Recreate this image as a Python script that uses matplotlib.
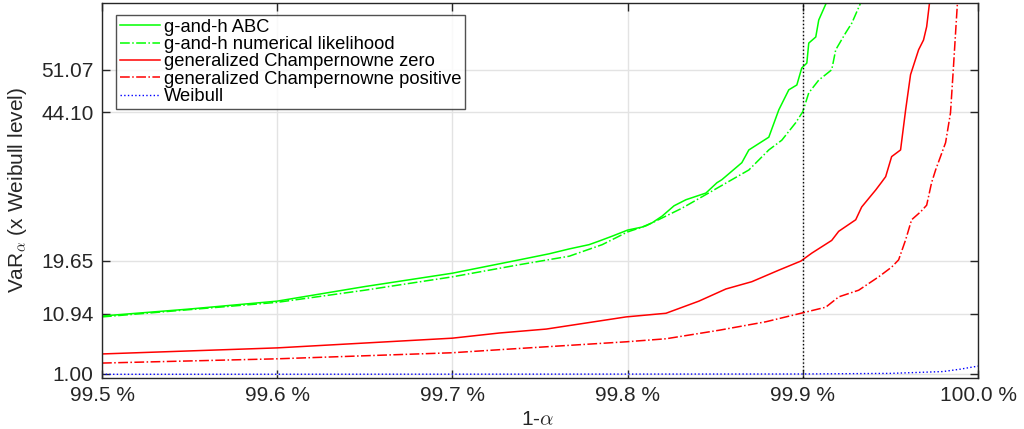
import numpy as np
import matplotlib
matplotlib.use("Agg")
import matplotlib.pyplot as plt
from matplotlib.ticker import FixedLocator, FuncFormatter

plt.rcParams['font.family'] = ['Liberation Sans', 'DejaVu Sans']
plt.rcParams['mathtext.fontset'] = 'cm'

# values (x in %, y in multiples of the Weibull level)
gh_abc_x = [99.5, 99.55, 99.6, 99.65, 99.7, 99.7382, 99.7553, 99.7667, 99.778, 99.7838,
            99.7912, 99.8, 99.8083, 99.814, 99.8197, 99.8265, 99.8333, 99.8447, 99.851,
            99.8538, 99.8652, 99.8692, 99.8806, 99.8863, 99.892, 99.8966, 99.8994,
            99.9023, 99.9034, 99.9074, 99.9091, 99.9137]
gh_abc_y = [10.55, 11.7, 13.0, 15.4, 17.6, 19.8, 20.8, 21.6, 22.3, 22.9,
            23.7, 24.7, 25.2, 25.9, 27.0, 28.7, 29.7, 30.8, 32.5,
            33.0, 35.8, 37.9, 40.0, 44.5, 47.8, 48.6, 51.4,
            52.2, 55.5, 56.5, 59.3, 62.3]

gh_num_x = [99.5, 99.55, 99.6, 99.65, 99.7, 99.7382, 99.7667, 99.7855, 99.8, 99.8105,
            99.8197, 99.831, 99.845, 99.8595, 99.8692, 99.8806, 99.888, 99.896, 99.9,
            99.9034, 99.9091, 99.9165, 99.9188, 99.9245, 99.928, 99.9333]
gh_num_y = [10.4, 11.6, 12.8, 14.8, 17.0, 19.0, 20.4, 22.3, 24.4, 25.4,
            26.7, 28.3, 30.6, 33.0, 34.6, 37.9, 39.5, 42.4, 44.2,
            47.3, 49.4, 51.1, 54.4, 57.2, 58.8, 62.3]

gc_zero_x = [99.5, 99.6, 99.7, 99.7268, 99.7536, 99.7991, 99.8219, 99.8407, 99.8561,
             99.8709, 99.8863, 99.8989, 99.9051, 99.9165, 99.9205, 99.9302, 99.9336,
             99.9393, 99.9416, 99.945, 99.9473, 99.9507, 99.9558, 99.9587, 99.9615,
             99.9661, 99.9689, 99.9707, 99.9724]
gc_zero_y = [4.3, 5.3, 6.9, 7.75, 8.4, 10.4, 11.0, 13.0, 15.0,
             16.2, 18.1, 19.6, 20.9, 23.0, 24.5, 26.4, 28.5,
             30.5, 31.3, 32.6, 33.5, 36.8, 37.9, 44.5, 50.3,
             54.4, 56.0, 58.2, 62.3]

gc_pos_x = [99.5, 99.6, 99.7, 99.7268, 99.7991, 99.8219, 99.8521, 99.8789, 99.8989,
            99.9131, 99.9205, 99.9319, 99.9433, 99.9507, 99.9547, 99.9587, 99.9621,
            99.9672, 99.9707, 99.9735, 99.9758, 99.9815, 99.9843, 99.986, 99.9872,
            99.9883]
gc_pos_y = [2.8, 3.5, 4.5, 5.0, 6.3, 6.8, 8.2, 9.6, 11.0,
            12.0, 13.7, 14.8, 17.0, 18.6, 19.8, 23.1, 26.4,
            27.7, 28.8, 32.5, 34.6, 39.1, 44.0, 51.6, 57.2,
            62.3]

weibull_x = [99.5, 99.7, 99.9, 99.95, 99.98, 99.99, 100.0]
weibull_y = [0.95, 0.97, 1.0, 1.1, 1.4, 1.8, 2.3]

ytick_vals = [1.00, 10.94, 19.65, 44.10, 51.07]
xtick_vals = [99.5, 99.6, 99.7, 99.8, 99.9, 100.0]

txt = '#262626'

fig = plt.figure(figsize=(10.24, 4.29), dpi=100)
ax = fig.add_axes([102/1024, 51/429, 876/1024, 375/429])

ax.plot(gh_abc_x, gh_abc_y, color=(0, 1, 0), lw=1.1, ls='-', label='g-and-h ABC')
ax.plot(gh_num_x, gh_num_y, color=(0, 1, 0), lw=1.1, ls='-.', label='g-and-h numerical likelihood')
ax.plot(gc_zero_x, gc_zero_y, color=(1, 0, 0), lw=1.1, ls='-', label='generalized Champernowne zero')
ax.plot(gc_pos_x, gc_pos_y, color=(1, 0, 0), lw=1.1, ls='-.', label='generalized Champernowne positive')
ax.plot(weibull_x, weibull_y, color=(0, 0, 1), lw=1.0, ls=':', label='Weibull')
ax.axvline(99.9, color='black', lw=1.0, ls=':')

ax.set_xlim(99.5, 100.0)
ax.set_ylim(0.34, 62.1)
ax.xaxis.set_major_locator(FixedLocator(xtick_vals))
ax.yaxis.set_major_locator(FixedLocator(ytick_vals))
ax.xaxis.set_major_formatter(FuncFormatter(lambda v, p: f'{v:.1f} %'))
ax.yaxis.set_major_formatter(FuncFormatter(lambda v, p: f'{v:.2f}'))

ax.grid(True, color='#e3e3e3', lw=1.0)
ax.set_axisbelow(True)
ax.tick_params(direction='in', top=True, right=True, length=6, width=1,
               labelsize=15, colors=txt, pad=6)
for s in ax.spines.values():
    s.set_color(txt)
    s.set_linewidth(1.0)

ax.set_xlabel(r'1-$\alpha$', fontsize=15, color=txt)
ax.xaxis.set_label_coords(0.497, -0.085)
ax.set_ylabel(r'VaR$_\alpha$ (x Weibull level)', fontsize=15, color=txt)
ax.yaxis.set_label_coords(-0.083, 0.5)

leg = ax.legend(loc='upper left', bbox_to_anchor=(0.016, 0.968), fontsize=13.2,
                frameon=True, fancybox=False, borderpad=0.2, labelspacing=0.02,
                handlelength=2.2, handletextpad=0.22, borderaxespad=0)
leg.get_frame().set_edgecolor(txt)
leg.get_frame().set_linewidth(1.0)
for t in leg.get_texts():
    t.set_color('black')

fig.savefig('out.png', dpi=100)
